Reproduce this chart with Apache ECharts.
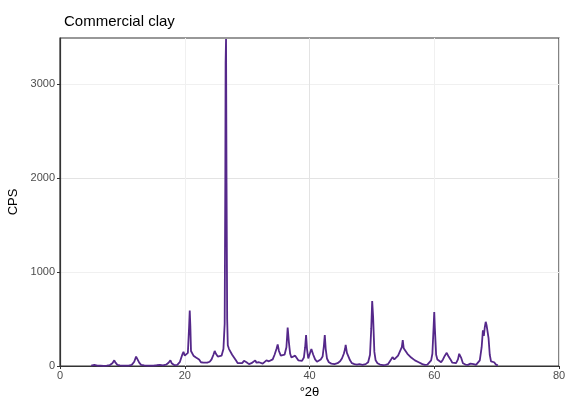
<!DOCTYPE html>
<html style="height: 100%">
<head>
    <meta charset="UTF-8">
    <script src="https://cdn.jsdelivr.net/npm/echarts@6/dist/echarts.min.js"></script>
</head>
<body style="height: 100%; margin: 0; background: #fff">
    <div id="main" style="width: 568px; height: 398px;"></div>
    <script type="text/javascript">
        // diffractogram
        var twoTheta = [
            5.0, 5.5, 6.0, 6.5, 7.0, 7.5, 8.0, 8.4, 8.7, 8.9, 9.2, 9.6, 10.0, 10.5, 11.0, 11.5, 11.9, 12.2, 12.4, 12.7,
            13.0, 13.5, 14.0, 14.5, 15.0, 15.5, 16.0, 16.5, 17.0, 17.4, 17.7, 17.9, 18.3, 18.8, 19.2, 19.6, 19.8, 20.0,
            20.3, 20.5, 20.7, 20.8, 20.9, 21.0, 21.2, 21.4, 21.6, 21.8, 22.0, 22.3, 22.6, 23.0, 23.3, 23.6, 24.0, 24.3,
            24.6, 24.8, 25.0, 25.3, 25.6, 25.9, 26.2, 26.4, 26.5, 26.55, 26.62, 26.7, 26.8, 26.9, 27.1, 27.4, 27.6, 27.9,
            28.2, 28.5, 28.8, 29.2, 29.5, 29.7, 29.9, 30.3, 30.7, 31.0, 31.3, 31.5, 31.9, 32.2, 32.5, 32.8, 33.1, 33.3,
            33.5, 33.8, 34.1, 34.4, 34.7, 34.9, 35.1, 35.4, 35.7, 36.0, 36.3, 36.5, 36.7, 36.9, 37.1, 37.4, 37.7, 37.9,
            38.2, 38.5, 38.8, 39.1, 39.3, 39.45, 39.6, 39.8, 40.1, 40.3, 40.45, 40.6, 40.9, 41.2, 41.5, 41.8, 42.1, 42.3,
            42.45, 42.6, 42.8, 43.1, 43.5, 44.0, 44.5, 44.9, 45.2, 45.5, 45.7, 45.8, 46.0, 46.2, 46.5, 46.8, 47.2, 47.6,
            48.0, 48.5, 49.0, 49.4, 49.7, 49.9, 50.05, 50.2, 50.4, 50.6, 50.9, 51.3, 51.8, 52.2, 52.6, 53.0, 53.3, 53.6,
            53.9, 54.2, 54.5, 54.8, 54.95, 55.1, 55.4, 55.7, 56.0, 56.3, 56.6, 56.9, 57.2, 57.5, 57.8, 58.1, 58.5, 58.9,
            59.2, 59.5, 59.7, 59.9, 60.0, 60.1, 60.3, 60.5, 60.8, 61.1, 61.4, 61.7, 62.0, 62.3, 62.6, 62.9, 63.2, 63.5,
            63.8, 64.0, 64.1, 64.3, 64.6, 65.0, 65.4, 65.8, 66.0, 66.3, 66.7, 67.0, 67.3, 67.6, 67.8, 67.95, 68.1, 68.25,
            68.4, 68.55, 68.7, 68.9, 69.1, 69.4, 69.6, 69.9, 70.2
        ];
        var cps = [
            5, 12, 4, 3, 2, 4, 10, 30, 60, 35, 12, 6, 4, 3, 5, 12, 45, 100, 85, 35,
            12, 6, 4, 3, 5, 8, 12, 6, 14, 35, 60, 30, 10, 12, 40, 120, 150, 110,
            95, 140, 420, 590, 420, 160, 150, 110, 130, 90, 100, 70, 40, 35, 50, 35, 45, 70,
            120, 160, 130, 100, 90, 110, 180, 450, 1950, 3230, 3480, 1950, 500, 220, 180, 190, 120, 90,
            60, 30, 20, 30, 55, 70, 40, 20, 30, 45, 60, 35, 40, 55, 25, 30, 60, 80,
            50, 35, 70, 120, 180, 230, 160, 110, 90, 120, 200, 410, 250, 130, 90, 80, 110, 95,
            60, 70, 55, 90, 200, 330, 180, 80, 100, 180, 200, 120, 70, 45, 50, 70, 100, 210,
            330, 180, 80, 40, 25, 20, 30, 50, 80, 130, 180, 225, 140, 120, 60, 30, 20, 15,
            20, 12, 20, 40, 120, 400, 690, 520, 150, 60, 30, 15, 10, 12, 20, 60, 95, 70,
            80, 110, 130, 200, 275, 190, 160, 130, 110, 90, 70, 60, 50, 40, 35, 20, 12, 15,
            30, 60, 130, 420, 575, 400, 120, 70, 50, 40, 70, 110, 140, 100, 70, 35, 20, 30,
            70, 130, 150, 90, 30, 15, 12, 25, 40, 20, 12, 20, 60, 200, 380, 320, 410, 470,
            430, 450, 300, 120, 50, 30, 40, 15, 6
        ];
        var xLabels = [0, 20, 40, 60, 80];
        var yLabels = [0, 1000, 2000, 3000];

        var myChart = echarts.init(document.getElementById('main'));

        var points = twoTheta.map(function (t, i) {
            return [t, cps[i]];
        });

        var font = 'Liberation Sans, Arial, sans-serif';
        var plain = function (v) { return String(v); };

        var option = {
            backgroundColor: '#fff',
            animation: false,
            title: {
                text: 'Commercial clay',
                left: 59,
                top: 9,
                textStyle: { fontFamily: font, fontSize: 15, fontWeight: 'normal', color: '#000' }
            },
            grid: {
                left: 60, right: 9, top: 38, bottom: 32,
                containLabel: false,
                outerBoundsMode: 'none',
                show: true,
                borderColor: '#333',
                borderWidth: 1.2,
                backgroundColor: '#fff'
            },
            xAxis: {
                type: 'value',
                min: 0, max: 80, interval: 10,
                name: '°2θ',
                nameLocation: 'middle',
                nameGap: 18,
                nameTextStyle: { fontFamily: font, fontSize: 13, color: '#000' },
                axisLine: { lineStyle: { color: '#333', width: 1.2 } },
                axisTick: { customValues: xLabels, length: 3, lineStyle: { color: '#333' } },
                axisLabel: { customValues: xLabels, formatter: plain, fontFamily: font, fontSize: 11, color: '#4d4d4d', margin: 4 },
                splitLine: { lineStyle: { color: ['#e3e3e3', '#f0f0f0'], width: 1 } }
            },
            yAxis: {
                type: 'value',
                min: 0, max: 3490, interval: 500,
                name: 'CPS',
                nameLocation: 'middle',
                nameGap: 40,
                nameTextStyle: { fontFamily: font, fontSize: 13, color: '#000' },
                axisLine: { show: true, lineStyle: { color: '#333', width: 1.2 } },
                axisTick: { show: true, customValues: yLabels, length: 3, lineStyle: { color: '#333' } },
                axisLabel: { customValues: yLabels, formatter: plain, fontFamily: font, fontSize: 11, color: '#4d4d4d', margin: 5 },
                splitLine: { lineStyle: { color: ['#e3e3e3', '#f0f0f0'], width: 1 } }
            },
            series: [{
                type: 'line',
                data: points,
                showSymbol: false,
                symbol: 'none',
                clip: true,
                lineStyle: { color: '#55288a', width: 1.8 }
            }]
        };

        myChart.setOption(option);
    </script>
</body>
</html>
